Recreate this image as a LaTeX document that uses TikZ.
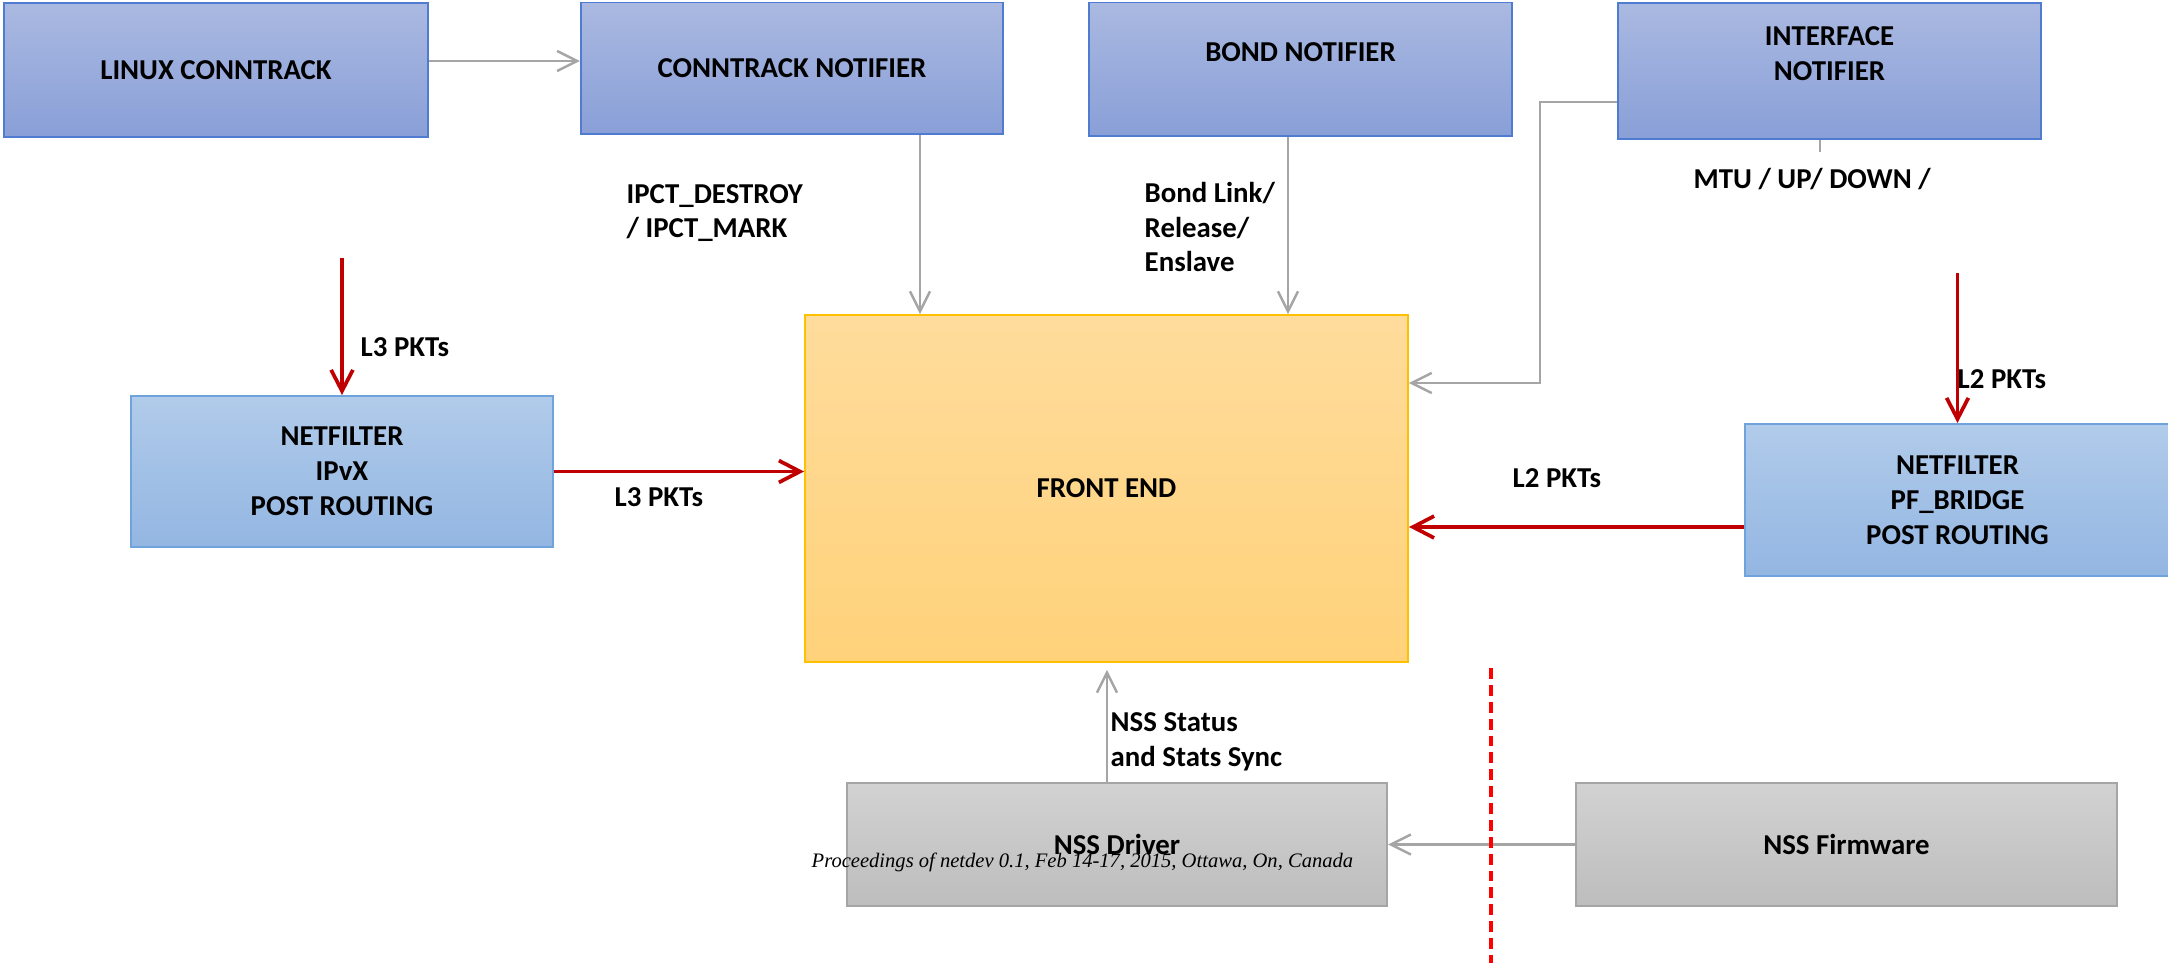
\documentclass[tikz,border=0pt]{standalone}
\usepackage{fontspec}
\setmainfont{Carlito}
\newfontfamily\procfont{Liberation Serif}
\usetikzlibrary{arrows.meta}
\definecolor{notetop}{HTML}{AAB9E1}
\definecolor{notebot}{HTML}{899FD7}
\definecolor{noteline}{HTML}{4F7BD0}
\definecolor{nftop}{HTML}{B1CBEA}
\definecolor{nfbot}{HTML}{93B6E2}
\definecolor{nfline}{HTML}{6FA3DB}
\definecolor{fetop}{HTML}{FFDC9C}
\definecolor{febot}{HTML}{FFD27A}
\definecolor{feline}{HTML}{FFC000}
\definecolor{nsstop}{HTML}{D2D2D2}
\definecolor{nssbot}{HTML}{BDBDBD}
\definecolor{nssline}{HTML}{A5A5A5}
\definecolor{arrgray}{HTML}{A5A5A5}
\definecolor{pktred}{HTML}{C00000}
\definecolor{cutred}{HTML}{FF0000}

\begin{document}
\begin{tikzpicture}[x=0.01cm,y=-0.01cm,
  every node/.style={font=\fontsize{8.2pt}{9.92pt}\selectfont\bfseries},
  notebox/.style={draw=noteline,line width=0.55pt,top color=notetop,bottom color=notebot,inner sep=0pt,align=center},
  nfbox/.style={draw=nfline,line width=0.55pt,top color=nftop,bottom color=nfbot,inner sep=0pt,align=center},
  febox/.style={draw=feline,line width=0.45pt,top color=fetop,bottom color=febot,inner sep=0pt,align=center},
  nssbox/.style={draw=nssline,line width=0.55pt,top color=nsstop,bottom color=nssbot,inner sep=0pt,align=center},
  evt/.style={draw=arrgray,line width=0.7pt,-{Straight Barb[length=5.7pt,width=5.7pt]}},
  pkt/.style={draw=pktred,line width=1.05pt,-{Straight Barb[length=6pt,width=6.2pt]}},
  lbl/.style={anchor=west,inner sep=0pt,align=left}]
\useasboundingbox (0,0) rectangle (2168,963);
%notifiers
\node[notebox,minimum width=4.245cm,minimum height=1.34cm] (linux) at (216,70) {LINUX CONNTRACK};
\node[notebox,minimum width=4.22cm,minimum height=1.31cm] (ctn) at (792,68) {CONNTRACK NOTIFIER};
\node[notebox,minimum width=4.23cm,minimum height=1.33cm] (bond) at (1300.5,69) {BOND NOTIFIER\\ ~};
\node[notebox,minimum width=4.23cm,minimum height=1.36cm] (iface) at (1829.5,71) {INTERFACE\\NOTIFIER\\ ~};
%netfilter hooks
\node[nfbox,minimum width=4.22cm,minimum height=1.51cm] (ipvx) at (342,471.5) {NETFILTER\\IPvX\\POST ROUTING};
\node[nfbox,minimum width=4.25cm,minimum height=1.52cm] (pfb) at (1957.5,500) {NETFILTER\\PF\_BRIDGE\\POST ROUTING};
\node[febox,minimum width=6.03cm,minimum height=3.47cm] (fe) at (1106.5,488.5) {FRONT END};
%nss
\node[nssbox,minimum width=5.4cm,minimum height=1.23cm] (nssd) at (1117,844.5) {NSS Driver};
\node[nssbox,minimum width=5.41cm,minimum height=1.23cm] (nssf) at (1846.5,844.5) {NSS Firmware};
\node[lbl,font=\procfont\itshape\fontsize{5.85pt}{6pt}\selectfont] (proc) at (811,862) {Proceedings of netdev 0.1, Feb 14-17, 2015, Ottawa, On, Canada};
%events
\draw[evt] (linux.east |- 0,61) -- (ctn.west |- 0,61);
\draw[evt] (920,0 |- ctn.south) -- (920,0 |- fe.north);
\draw[evt] (1288,0 |- bond.south) -- (1288,0 |- fe.north);
\draw[evt] (iface.west |- 0,102) -| (1540,383) -- (fe.east |- 0,383);
\draw[draw=arrgray,line width=0.7pt] (1820,0 |- iface.south) -- ++(0,12);
\draw[evt,shorten >=2pt] (1107,0 |- nssd.north) -- (1107,0 |- fe.south);
\draw[evt] (nssf.west) -- (nssd.east);
%packets
\coordinate (l3in) at (342,258);
\coordinate (l2in) at (1957.5,273);
\draw[pkt] (l3in) -- (ipvx.north);
\draw[pkt] (ipvx.east) -- (fe.west |- ipvx.east);
\draw[pkt] (l2in) -- (pfb.north);
\draw[pkt] (pfb.west |- 0,527) -- (fe.east |- 0,527);
%labels
\node[lbl] (ctlbl) at (626,213) {IPCT\_DESTROY\\/ IPCT\_MARK};
\node[lbl] (bondlbl) at (1144,227) {Bond Link/\\Release/\\Enslave};
\node[lbl] (mtulbl) at (1693,179) {MTU / UP/ DOWN /};
\node[lbl] (l3a) at (360,347) {L3 PKTs};
\node[lbl] (l3b) at (614,497) {L3 PKTs};
\node[lbl] (l2a) at (1957,379) {L2 PKTs};
\node[lbl] (l2b) at (1512,478) {L2 PKTs};
\node[lbl] (nsslbl) at (1110,741.5) {NSS Status\\and Stats Sync};
%host / firmware split
\coordinate (cuttop) at (1491,668);
\coordinate (cutbot) at (1491,970);
\draw[cutred,line width=1pt,dash pattern=on 3.1pt off 1.7pt] (cuttop) -- (cutbot);
\end{tikzpicture}
\end{document}
